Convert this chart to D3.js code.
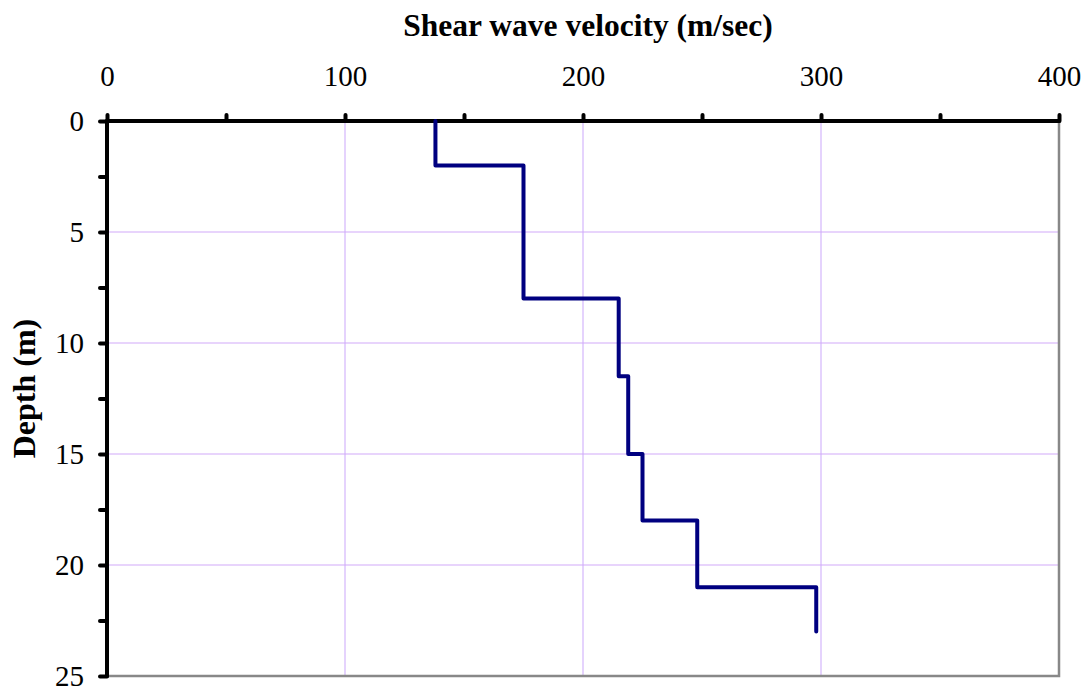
<!DOCTYPE html>
<html>
<head>
<meta charset="utf-8">
<script src="https://cdn.jsdelivr.net/npm/d3@7"></script>
<style>
  body { margin: 0; background: #fff; }
</style>
</head>
<body>
<div id="chart"></div>
<script>
// step profile: velocity for each depth layer
var layerTop    = [0, 2, 8, 11.5, 15, 18, 21];
var layerBottom = [2, 8, 11.5, 15, 18, 21, 23];
var velocity    = [138, 175, 215, 219, 225, 248, 298];

var xTicks = [0, 100, 200, 300, 400];
var xMinor = [0, 50, 100, 150, 200, 250, 300, 350, 400];
var yTicks = [0, 5, 10, 15, 20, 25];
var yMinor = [0, 2.5, 5, 7.5, 10, 12.5, 15, 17.5, 20, 22.5, 25];

var serif = "'Liberation Serif', 'Times New Roman', 'DejaVu Serif', serif";

var margin = {top: 121, right: 27, bottom: 15, left: 107},
    width = 1086 - margin.left - margin.right,
    height = 691 - margin.top - margin.bottom;

var svg = d3.select("#chart")
  .append("svg")
    .attr("width", 1086)
    .attr("height", 691)
  .append("g")
    .attr("transform", "translate(" + margin.left + "," + margin.top + ")");

var x = d3.scaleLinear().domain([0, 400]).range([0, width]);
var y = d3.scaleLinear().domain([0, 25]).range([0, height]);

// grid
svg.selectAll(".vgrid")
  .data(xTicks.slice(1, -1))
  .enter().append("line")
    .attr("x1", function(d) { return x(d); })
    .attr("x2", function(d) { return x(d); })
    .attr("y1", 0).attr("y2", height)
    .style("stroke", "#dcc4fc").style("stroke-width", 1.5);

svg.selectAll(".hgrid")
  .data(yTicks.slice(1, -1))
  .enter().append("line")
    .attr("x1", 0).attr("x2", width)
    .attr("y1", function(d) { return y(d); })
    .attr("y2", function(d) { return y(d); })
    .style("stroke", "#d2aafa").style("stroke-width", 1.2);

// right / bottom border
svg.append("path")
  .attr("d", "M" + x(400) + "," + y(0) + "V" + y(25) + "H" + x(0))
  .style("fill", "none").style("stroke", "#888").style("stroke-width", 2.5);

// top axis
var xAxis = svg.append("g")
  .call(d3.axisTop(x).tickValues(xMinor).tickSize(6).tickFormat(function(d) {
    return xTicks.indexOf(d) >= 0 ? d : "";
  }));
xAxis.select(".domain").remove();
xAxis.selectAll(".tick line").style("stroke", "#000").style("stroke-width", 4).style("stroke-linecap", "round");
xAxis.selectAll(".tick text").attr("y", -35)
  .style("font-family", serif).style("font-size", "29px").style("fill", "#000");
svg.append("line")
  .attr("x1", x(0)).attr("x2", x(400)).attr("y1", 0).attr("y2", 0)
  .style("stroke", "#000").style("stroke-width", 4).style("stroke-linecap", "round");

// left axis
var yAxis = svg.append("g")
  .call(d3.axisLeft(y).tickValues(yMinor).tickSize(7).tickFormat(function(d) {
    return yTicks.indexOf(d) >= 0 ? d : "";
  }));
yAxis.select(".domain").remove();
yAxis.selectAll(".tick line").style("stroke", "#000").style("stroke-width", 4).style("stroke-linecap", "round");
yAxis.selectAll(".tick text").attr("x", -23)
  .style("font-family", serif).style("font-size", "29px").style("fill", "#000");
svg.append("line")
  .attr("x1", 0).attr("x2", 0).attr("y1", y(0)).attr("y2", y(25))
  .style("stroke", "#000").style("stroke-width", 4).style("stroke-linecap", "round");

// step line
var pts = [];
velocity.forEach(function(v, i) {
  pts.push([v, layerTop[i]]);
  pts.push([v, layerBottom[i]]);
});
svg.append("path")
  .datum(pts)
  .attr("d", d3.line()
    .x(function(d) { return x(d[0]); })
    .y(function(d) { return y(d[1]); }))
  .style("fill", "none")
  .style("stroke", "#000080")
  .style("stroke-width", 4)
  .style("stroke-linejoin", "round")
  .style("stroke-linecap", "round");

// titles
svg.append("text")
  .attr("x", width / 2 + 5)
  .attr("y", -85)
  .attr("text-anchor", "middle")
  .style("font-family", serif)
  .style("font-size", "31.5px")
  .style("font-weight", "bold")
  .text("Shear wave velocity (m/sec)");

svg.append("text")
  .attr("transform", "translate(" + (-72) + "," + (height / 2 - 10) + ")rotate(-90)")
  .attr("text-anchor", "middle")
  .style("font-family", serif)
  .style("font-size", "32px")
  .style("font-weight", "bold")
  .text("Depth (m)");
</script>
</body>
</html>
